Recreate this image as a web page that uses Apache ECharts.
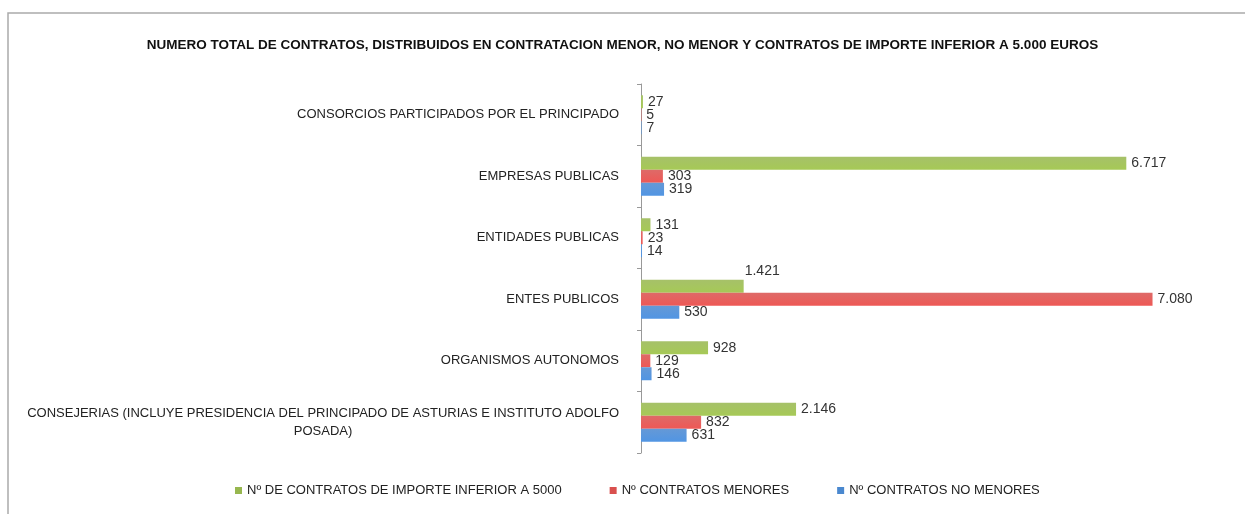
<!DOCTYPE html>
<html>
<head>
<meta charset="utf-8">
<script src="https://cdn.jsdelivr.net/npm/echarts@6/dist/echarts.min.js"></script>
<style>
  html, body { margin: 0; padding: 0; background: #fff; }
  #chart { width: 1245px; height: 514px; }
</style>
</head>
<body>
<div id="chart"></div>
<script>
// categorias (de arriba a abajo)
const categories = [
    'CONSORCIOS PARTICIPADOS POR EL PRINCIPADO',
    'EMPRESAS PUBLICAS',
    'ENTIDADES PUBLICAS',
    'ENTES PUBLICOS',
    'ORGANISMOS AUTONOMOS',
    'CONSEJERIAS (INCLUYE PRESIDENCIA DEL PRINCIPADO DE ASTURIAS E INSTITUTO ADOLFO\nPOSADA)'
];
const seriesNames = [
    'Nº DE CONTRATOS DE IMPORTE INFERIOR A 5000',
    'Nº CONTRATOS MENORES',
    'Nº CONTRATOS NO MENORES'
];
const inferior5000 = [27, 6717, 131, 1421, 928, 2146];
const menores = [5, 303, 23, 7080, 129, 832];
const noMenores = [7, 319, 14, 530, 146, 631];

const colors = ['#97b74f', '#d9504e', '#4a88cf'];

// formato con punto de miles
function fmt(v) {
    return String(v).replace(/\B(?=(\d{3})+(?!\d))/g, '.');
}

function barColor(c) {
    return {
        type: 'linear', x: 0, y: 0, x2: 0, y2: 1,
        colorStops: [
            { offset: 0, color: echarts.color.lift(c, 0.15) },
            { offset: 1, color: echarts.color.lift(c, -0.1) }
        ]
    };
}

function makeSeries(name, values, idx) {
    const data = values.map((v, i) => {
        // la etiqueta 1.421 va encima de la barra
        if (idx === 0 && i === 3) {
            return { value: v, label: { offset: [-4, -15] } };
        }
        return v;
    });
    return {
        name: name,
        type: 'bar',
        barWidth: 13,
        barGap: '0%',
        itemStyle: { color: barColor(colors[idx]) },
        label: {
            show: true,
            position: 'right',
            distance: 5,
            color: '#333',
            fontSize: 14,
            fontFamily: 'Liberation Sans',
            formatter: p => fmt(p.value)
        },
        data: data
    };
}

const chart = echarts.init(document.getElementById('chart'));

chart.setOption({
    animation: false,
    color: colors,
    title: {
        text: 'NUMERO TOTAL DE CONTRATOS, DISTRIBUIDOS EN CONTRATACION MENOR, NO MENOR Y CONTRATOS DE IMPORTE INFERIOR A 5.000 EUROS',
        left: 'center',
        top: 33,
        textStyle: {
            fontSize: 13.5,
            fontWeight: 'bold',
            color: '#111',
            fontFamily: 'Liberation Sans'
        }
    },
    legend: {
        bottom: 12,
        left: 230,
        icon: 'rect',
        itemWidth: 7,
        itemHeight: 7,
        itemGap: 48,
        textStyle: { fontSize: 13, color: '#222', fontFamily: 'Liberation Sans' },
        data: seriesNames.map((n, i) => ({ name: n, itemStyle: { color: colors[i] } }))
    },
    grid: {
        left: 641,
        right: 26,
        top: 84,
        bottom: 61
    },
    xAxis: {
        type: 'value',
        min: 0,
        max: 8000,
        show: false
    },
    yAxis: {
        type: 'category',
        inverse: true,
        data: categories,
        axisLine: { show: true, lineStyle: { color: '#999' } },
        axisTick: { show: true, length: 4, lineStyle: { color: '#999' } },
        axisLabel: {
            margin: 22,
            fontSize: 13,
            color: '#222',
            fontFamily: 'Liberation Sans',
            lineHeight: 18,
            formatter: v => v.split('\n').map(s => '{c|' + s + '}').join('\n'),
            rich: { c: { align: 'center', fontSize: 13, lineHeight: 18, color: '#222' } }
        }
    },
    graphic: [
        {
            type: 'polyline',
            shape: { points: [[8, 514], [8, 13], [1245, 13]] },
            style: { stroke: '#aaa', lineWidth: 1.5, fill: null }
        }
    ],
    series: [
        makeSeries(seriesNames[0], inferior5000, 0),
        makeSeries(seriesNames[1], menores, 1),
        makeSeries(seriesNames[2], noMenores, 2)
    ]
});
</script>
</body>
</html>
